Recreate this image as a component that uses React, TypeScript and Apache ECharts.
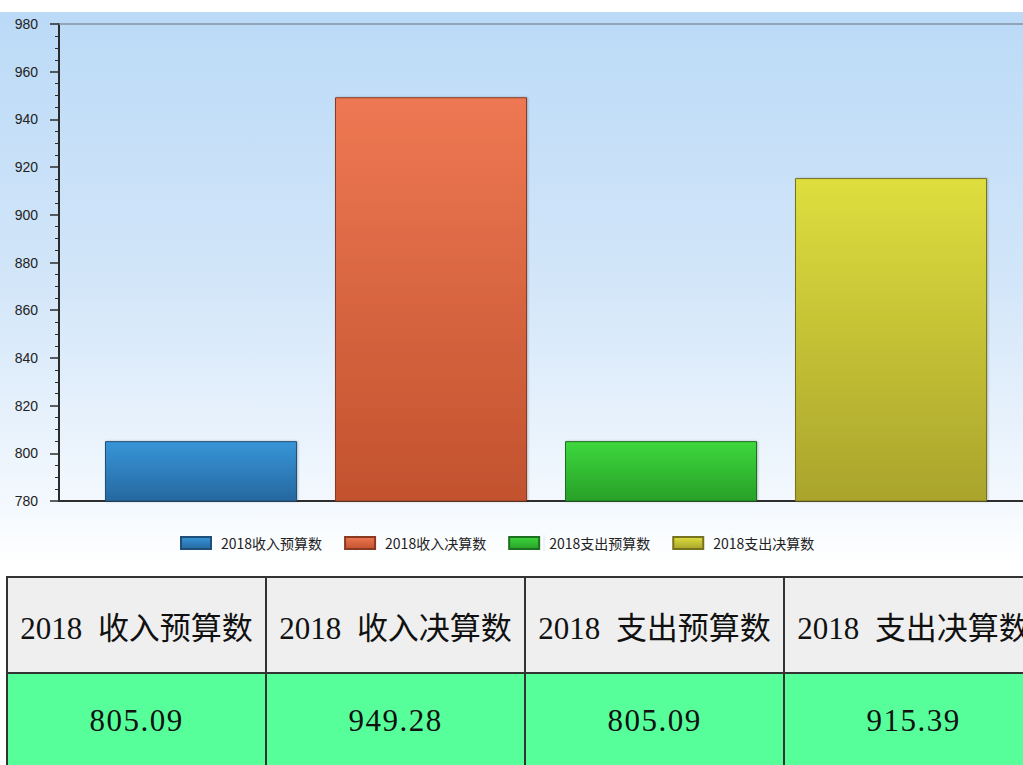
import React, { useEffect, useRef } from "react";
import * as echarts from "echarts";

const categories = ["2018"];
const seriesNames = ["2018收入预算数", "2018收入决算数", "2018支出预算数", "2018支出决算数"];
const seriesValues = [805.09, 949.28, 805.09, 915.39];
const tableHeaders = ["2018 收入预算数", "2018 收入决算数", "2018 支出预算数", "2018 支出决算数"];
const tableValues = ["805.09", "949.28", "805.09", "915.39"];
const yMin = 780;
const yMax = 980;
const yInterval = 20;
const barColors = [
  ["#3795d8", "#2668a0", "#1f4f78"],
  ["#ee7853", "#c2522e", "#8a3a20"],
  ["#3dd83d", "#28a028", "#1d701d"],
  ["#dede3e", "#aaa42c", "#77721f"],
];

function Chart() {
  const ref = useRef<HTMLDivElement>(null);
  useEffect(() => {
    if (!ref.current) return;
    const chart = echarts.init(ref.current, null, { renderer: "svg" });
    const series = seriesNames.map((name, i) => ({
      type: "bar",
      name,
      data: [seriesValues[i]],
      barWidth: 192,
      barGap: "19.8%",
      itemStyle: {
        color: new echarts.graphic.LinearGradient(0, 0, 0, 1, [
          { offset: 0, color: barColors[i][0] },
          { offset: 1, color: barColors[i][1] },
        ]),
        borderColor: barColors[i][2],
        borderWidth: 1,
        shadowColor: "rgba(0,0,0,0.25)",
        shadowBlur: 2,
        shadowOffsetX: 1,
      },
    }));
    chart.setOption({
      animation: false,
      backgroundColor: "transparent",
      grid: { left: 59, right: 10, top: 12, bottom: 61 },
      legend: {
        top: 519,
        left: 175,
        itemWidth: 30,
        itemHeight: 12,
        itemGap: 22,
        icon: "rect",
        textStyle: {
          fontSize: 14,
          color: "#222",
          fontFamily: "'Noto Sans CJK SC', sans-serif",
          width: 125,
          padding: [0, 0, 0, 5],
        },
        data: seriesNames,
      },
      graphic: [357, 544, 732].map((x) => ({
        type: "line",
        shape: { x1: x, y1: 523, x2: x, y2: 539 },
        style: { stroke: "#e2e8ee", lineWidth: 1 },
      })),
      xAxis: [
        {
          type: "category",
          data: categories,
          axisLine: { show: true, lineStyle: { color: "#2e2e2e", width: 2 } },
          axisTick: { show: false },
          axisLabel: { show: false },
          splitLine: { show: false },
        },
        {
          type: "category",
          position: "top",
          data: categories,
          axisLine: { show: true, lineStyle: { color: "#8193a7", width: 1.5 } },
          axisTick: { show: false },
          axisLabel: { show: false },
          splitLine: { show: false },
        },
      ],
      yAxis: {
        type: "value",
        min: yMin,
        max: yMax,
        interval: yInterval,
        axisLine: { show: true, lineStyle: { color: "#2b2b2b", width: 2 } },
        axisTick: { show: true, length: 9, lineStyle: { color: "#2b2b2b", width: 1.5 } },
        minorTick: { show: true, splitNumber: 4, length: 4, lineStyle: { color: "#2b2b2b", width: 1 } },
        splitLine: { show: false },
        axisLabel: {
          margin: 21,
          fontSize: 14,
          color: "#222",
          fontFamily: "'Liberation Sans', Arial, sans-serif",
        },
      },
      series,
    });
    return () => chart.dispose();
  }, []);
  return (
    <div
      ref={ref}
      style={{
        position: "absolute",
        left: 0,
        top: 12,
        width: 1043,
        height: 550,
        background: "linear-gradient(to bottom, #bbdaf7 0%, #d3e6f9 50%, #f4f9fe 90%, #ffffff 100%)",
      }}
    />
  );
}

export default function App() {
  const cellBase: React.CSSProperties = {
    width: 255,
    height: 94,
    border: "2px solid #333",
    textAlign: "center",
    verticalAlign: "middle",
    fontSize: 31,
    fontFamily: "'Liberation Serif', 'Noto Sans CJK SC', serif",
    color: "#111",
    padding: 0,
    whiteSpace: "nowrap",
  };
  return (
    <div style={{ position: "absolute", left: 0, top: 0, width: 1023, height: 765, overflow: "hidden", background: "#fff" }}>
      <Chart />
      <table
        style={{
          position: "absolute",
          left: 6,
          top: 576,
          borderCollapse: "collapse",
          tableLayout: "fixed",
          width: 1038,
        }}
      >
        <tbody>
          <tr>
            {tableHeaders.map((h, i) => (
              <td key={i} style={{ ...cellBase, background: "#efefef", wordSpacing: 8 }}>
                {h}
              </td>
            ))}
          </tr>
          <tr>
            {tableValues.map((v, i) => (
              <td key={i} style={{ ...cellBase, background: "#56ff9a", letterSpacing: 1.5 }}>
                {v}
              </td>
            ))}
          </tr>
        </tbody>
      </table>
    </div>
  );
}
